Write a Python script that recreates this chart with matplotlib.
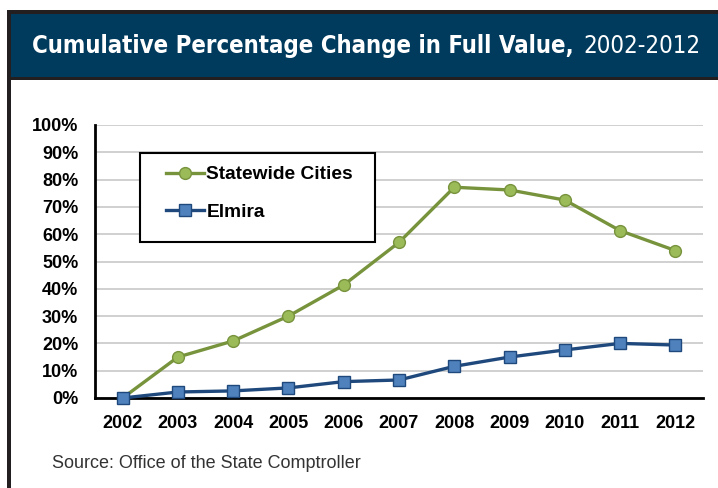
import matplotlib.pyplot as plt
from matplotlib import font_manager
from matplotlib.patches import Rectangle

years = [2002, 2003, 2004, 2005, 2006, 2007, 2008, 2009, 2010, 2011, 2012]
statewide = [0.0, 15.0, 20.9, 30.0, 41.4, 57.0, 77.2, 76.2, 72.5, 61.3, 54.0]
elmira = [0.0, 2.2, 2.6, 3.7, 6.0, 6.6, 11.6, 15.0, 17.6, 20.0, 19.4]
yticks = list(range(0, 101, 10))

# look for a narrow face for the title bar
narrow = None
for f in font_manager.fontManager.ttflist:
    n = (f.name + ' ' + f.fname).lower()
    if 'narrow' in n or 'condensed' in n or f.stretch in ('condensed', 'semi-condensed'):
        narrow = f.name
        break

fig = plt.figure(figsize=(7.18, 4.88), dpi=100)

W, H = 718, 488
def fx(x): return x / W
def fy(y): return 1 - y / H

fig.patches.append(Rectangle((fx(7), fy(488)), fx(4), fy(10) - fy(488), transform=fig.transFigure,
                             facecolor='#231f20', edgecolor='none', zorder=0))
fig.patches.append(Rectangle((fx(7), fy(80)), 1, fy(10) - fy(80), transform=fig.transFigure,
                             facecolor='#231f20', edgecolor='none', zorder=0))
fig.patches.append(Rectangle((fx(11), fy(77)), 1, fy(14) - fy(77), transform=fig.transFigure,
                             facecolor='#003a5c', edgecolor='none', zorder=1))

tfam = [narrow, 'DejaVu Sans'] if narrow else ['DejaVu Sans']
tkw = dict(fontstretch='condensed') if narrow else {}
t1 = fig.text(0, fy(46), 'Cumulative Percentage Change in Full Value,', ha='left', va='center',
              color='white', fontsize=20, fontweight='bold', family=tfam, **tkw)
t2 = fig.text(0, fy(46), '2002-2012', ha='left', va='center',
              color='white', fontsize=20, family=tfam, **tkw)

# fit the title between x=32 and x=700
r = fig.canvas.get_renderer()
w1 = t1.get_window_extent(r).width
w2 = t2.get_window_extent(r).width
gap = 6
scale = (668 - gap) / (w1 + w2)
t1.set_fontsize(20 * scale)
t2.set_fontsize(20 * scale)
t1.set_x(fx(32))
t2.set_x(fx(32 + w1 * scale + gap))

ax = fig.add_axes([fx(95), fy(398), fx(703) - fx(95), fy(125) - fy(398)])
ax.plot(years, statewide, color='#77933c', lw=2.4, marker='o', ms=8.5,
        mfc='#9bbb59', mec='#77933c', mew=1.0, label='Statewide Cities', zorder=3)
ax.plot(years, elmira, color='#1f497d', lw=2.4, marker='s', ms=8.3,
        mfc='#4f81bd', mec='#1f497d', mew=1.0, label='Elmira', zorder=3, clip_on=False)

ax.set_xlim(2001.5, 2012.5)
ax.set_ylim(0, 100)
ax.set_xticks(years)
ax.set_yticks(yticks)
ax.set_yticklabels([f'{v}%' for v in yticks])
ax.grid(axis='y', color='#c8c8c8', lw=1.2)
ax.set_axisbelow(True)
for s in ['top', 'right']:
    ax.spines[s].set_visible(False)
for s in ['left', 'bottom']:
    ax.spines[s].set_linewidth(2)
    ax.spines[s].set_color('black')
ax.tick_params(axis='x', length=0, pad=12)
ax.tick_params(axis='y', length=0, pad=12)
for lab in ax.get_xticklabels() + ax.get_yticklabels():
    lab.set_fontweight('bold')
    lab.set_fontsize(13)
    lab.set_family('Liberation Sans')

# legend box drawn as its own frame
ax.add_patch(Rectangle(((140 - 95) / 608, (398 - 242) / 273), 235 / 608, 89 / 273,
                       transform=ax.transAxes, facecolor='white', edgecolor='black',
                       lw=1.5, zorder=4))
leg = ax.legend(loc='upper left', bbox_to_anchor=((166 - 95) / 608, (398 - 166) / 273),
                frameon=False, prop={'family': 'Liberation Sans', 'weight': 'bold', 'size': 13.8},
                handlelength=2.0, handletextpad=0.1, labelspacing=1.05, borderpad=0,
                borderaxespad=0)
leg.set_zorder(5)

fig.text(fx(52), fy(463), 'Source: Office of the State Comptroller', ha='left', va='center',
         fontsize=13, color='#333333', family='Liberation Sans')

fig.savefig('out.png', dpi=100)
